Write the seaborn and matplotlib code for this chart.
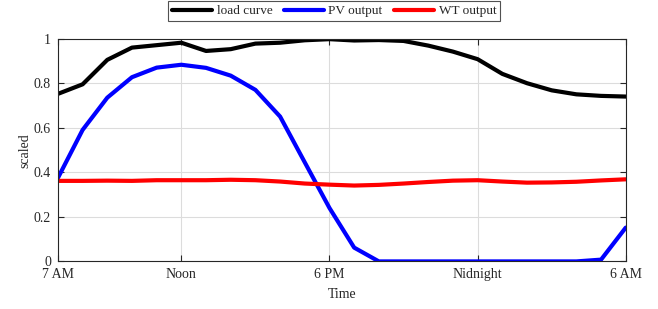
"""Daily load curve against PV and wind turbine output, scaled."""
import matplotlib
matplotlib.use("Agg")
from matplotlib import pyplot as plt
import pandas as pd
import seaborn as sns

# Hours after 7 AM
hours = list(range(24))
load_curve = [0.753, 0.796, 0.906, 0.961, 0.972, 0.983, 0.946, 0.954, 0.979, 0.983,
              0.994, 0.999, 0.993, 0.995, 0.991, 0.970, 0.943, 0.909, 0.843, 0.801,
              0.769, 0.751, 0.744, 0.741]
pv_output = [0.375, 0.591, 0.736, 0.828, 0.871, 0.884, 0.870, 0.835, 0.771, 0.651,
             0.445, 0.240, 0.062, 0.0, 0.0, 0.0, 0.0, 0.0, 0.0, 0.0,
             0.0, 0.0, 0.008, 0.152]
wt_output = [0.362, 0.362, 0.363, 0.362, 0.365, 0.365, 0.365, 0.367, 0.365, 0.359,
             0.350, 0.345, 0.341, 0.344, 0.350, 0.357, 0.363, 0.365, 0.359, 0.354,
             0.355, 0.358, 0.364, 0.369]
series_names = ["load curve", "PV output", "WT output"]
x_tick_hours = [0, 5, 11, 17, 23]
x_tick_labels = ["7 AM", "Noon", "6 PM", "Nidnight", "6 AM"]
y_ticks = [0, 0.2, 0.4, 0.6, 0.8, 1]
y_tick_labels = ["0", "0.2", "0.4", "0.6", "0.8", "1"]

df = pd.DataFrame({
    "hour": hours * 3,
    "value": load_curve + pv_output + wt_output,
    "series": [n for n in series_names for _ in hours],
})

sns.set_style("ticks")
plt.rcParams["font.family"] = ["Liberation Serif", "DejaVu Serif"]
plt.rcParams["font.size"] = 10
plt.rcParams["axes.edgecolor"] = "#262626"
plt.rcParams["xtick.direction"] = "in"
plt.rcParams["ytick.direction"] = "in"

fig = plt.figure(figsize=(6.58, 3.09), dpi=100)
ax = fig.add_axes([0.088, 0.154, 0.863, 0.72])

sns.lineplot(
    data=df, x="hour", y="value", hue="series",
    palette=["black", "#0000ff", "#ff0000"],
    linewidth=3, ax=ax, legend=True,
)

ax.set_xlim(0, 23)
ax.set_ylim(0, 1)
ax.set_xticks(x_tick_hours)
ax.set_xticklabels(x_tick_labels)
ax.set_yticks(y_ticks)
ax.set_yticklabels(y_tick_labels)
ax.grid(True, color="#dcdcdc", linewidth=0.8)
ax.set_axisbelow(True)
ax.tick_params(top=True, right=True, length=4, width=0.8, colors="#262626",
               labelsize=10, labelcolor="#262626")
ax.tick_params(axis="x", pad=5)
ax.tick_params(axis="y", pad=5)
for spine in ax.spines.values():
    spine.set_linewidth(0.8)
ax.set_xlabel("Time", fontsize=10, labelpad=5)
ax.set_ylabel("scaled", fontsize=10, labelpad=2)

handles, labels = ax.get_legend_handles_labels()
ax.get_legend().remove()
leg = fig.legend(
    handles, labels, loc="upper center", bbox_to_anchor=(0.508, 1.018),
    ncol=3, frameon=True, fancybox=False, edgecolor="#262626",
    handlelength=3.0, columnspacing=0.9, handletextpad=0.35,
    borderpad=0.3, fontsize=9.5,
)
leg.get_frame().set_linewidth(0.8)

fig.savefig("out.png", dpi=100)
